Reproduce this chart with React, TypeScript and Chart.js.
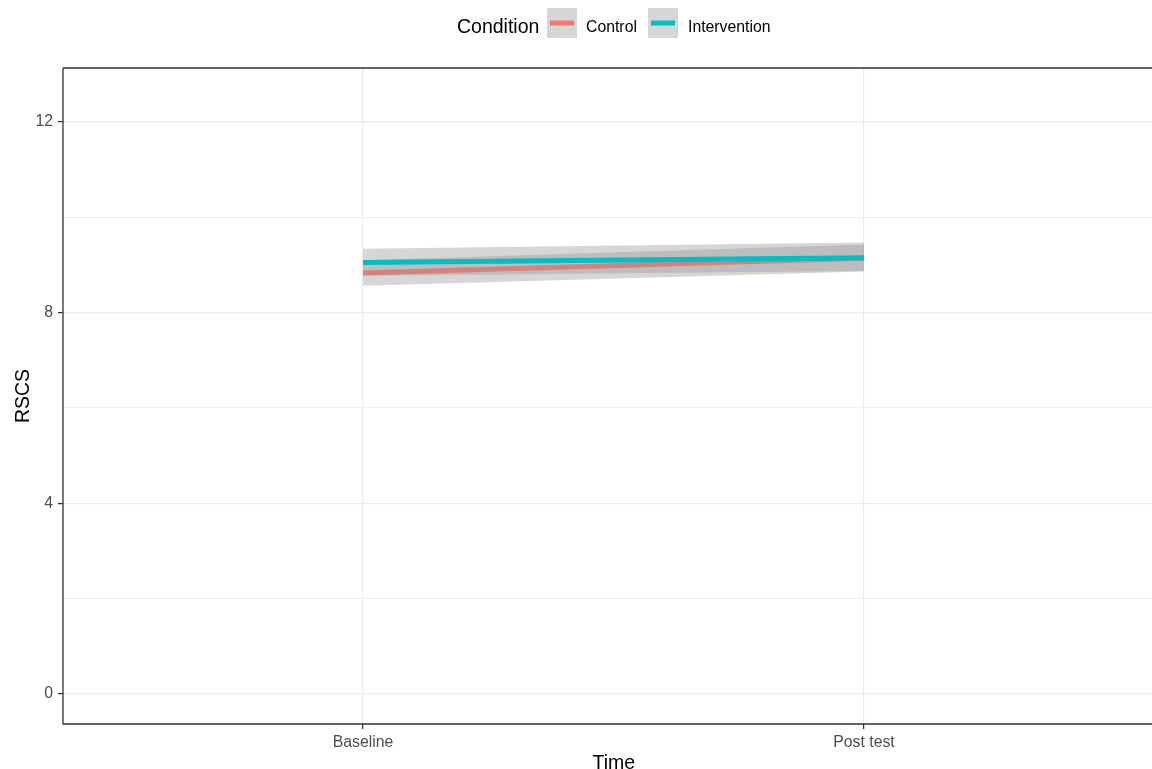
import React, { useEffect, useRef } from "react";
import { Chart, registerables } from "chart.js";

Chart.register(...registerables);

const categories = ["Baseline", "Post test"];
const timeIndex = [1, 2];
const controlMean = [8.83, 9.14];
const controlLower = [8.56, 8.86];
const controlUpper = [9.1, 9.43];
const interventionMean = [9.05, 9.15];
const interventionLower = [8.77, 8.87];
const interventionUpper = [9.34, 9.47];
const yTicks = [0, 2, 4, 6, 8, 10, 12];
const seriesNames = ["Control", "Intervention"];
const legendTitle = "Condition";
const xTitle = "Time";
const yTitle = "RSCS";

const RED = "#F8766D";
const TEAL = "#00BFC4";
const RIBBON = "rgba(153,153,153,0.4)";
const FONT = "'Liberation Sans', Arial, sans-serif";

const pts = (arr: number[]) => arr.map((v, i) => ({ x: timeIndex[i], y: v }));

export default function App() {
  const ref = useRef<HTMLCanvasElement | null>(null);
  useEffect(() => {
    if (!ref.current) return;
    const decor = {
      id: "decor",
      afterDatasetsDraw(chart: any) {
        const { ctx, chartArea } = chart;
        ctx.save();
        ctx.strokeStyle = "#333333";
        ctx.lineWidth = 1.3;
        ctx.beginPath();
        ctx.moveTo(chartArea.left, chartArea.top);
        ctx.lineTo(chartArea.right + 5, chartArea.top);
        ctx.moveTo(chartArea.left, chartArea.top);
        ctx.lineTo(chartArea.left, chartArea.bottom);
        ctx.lineTo(chartArea.right + 5, chartArea.bottom);
        ctx.stroke();
        ctx.restore();
      },
      afterDraw(chart: any) {
        const { ctx, chartArea } = chart;
        ctx.save();
        // axis titles
        ctx.fillStyle = "#000000";
        ctx.font = `19.5px ${FONT}`;
        ctx.textAlign = "center";
        ctx.textBaseline = "alphabetic";
        ctx.fillText(xTitle, 613.8, 769);
        ctx.save();
        ctx.translate(29, (chartArea.top + chartArea.bottom) / 2);
        ctx.rotate(-Math.PI / 2);
        ctx.fillText(yTitle, 0, 0);
        ctx.restore();
        // legend
        ctx.textAlign = "left";
        ctx.fillText(legendTitle, 457, 33);
        const keys = [
          { x: 547, color: RED, label: seriesNames[0], tx: 586 },
          { x: 648, color: TEAL, label: seriesNames[1], tx: 688 },
        ];
        ctx.font = `15.8px ${FONT}`;
        keys.forEach((k) => {
          ctx.fillStyle = "#d6d6d6";
          ctx.fillRect(k.x, 8, 30, 30);
          ctx.strokeStyle = k.color;
          ctx.lineWidth = 5;
          ctx.beginPath();
          ctx.moveTo(k.x + 3, 23);
          ctx.lineTo(k.x + 27, 23);
          ctx.stroke();
          ctx.fillStyle = "#000000";
          ctx.fillText(k.label, k.tx, 32);
        });
        ctx.restore();
      },
    };
    const chart = new Chart(ref.current, {
      type: "line",
      data: {
        datasets: [
          {
            label: "ctrlUpper",
            data: pts(controlUpper),
            borderWidth: 0,
            pointRadius: 0,
            backgroundColor: RIBBON,
            fill: 1,
            order: 4,
          },
          {
            label: "ctrlLower",
            data: pts(controlLower),
            borderWidth: 0,
            pointRadius: 0,
            fill: false,
            order: 4,
          },
          {
            label: seriesNames[0],
            data: pts(controlMean),
            borderColor: RED,
            borderWidth: 5,
            pointRadius: 0,
            fill: false,
            order: 3,
          },
          {
            label: "intUpper",
            data: pts(interventionUpper),
            borderWidth: 0,
            pointRadius: 0,
            backgroundColor: RIBBON,
            fill: 4,
            order: 2,
          },
          {
            label: "intLower",
            data: pts(interventionLower),
            borderWidth: 0,
            pointRadius: 0,
            fill: false,
            order: 2,
          },
          {
            label: seriesNames[1],
            data: pts(interventionMean),
            borderColor: TEAL,
            borderWidth: 5,
            pointRadius: 0,
            fill: false,
            order: 1,
          },
        ],
      },
      options: {
        animation: false,
        responsive: false,
        layout: { padding: { top: 68, left: 0, right: 0, bottom: 0 } },
        plugins: {
          legend: { display: false },
          tooltip: { enabled: false },
          title: { display: false },
        },
        scales: {
          x: {
            type: "linear",
            min: 0.401,
            max: 2.575,
            afterBuildTicks: (axis: any) => {
              axis.ticks = timeIndex.map((v) => ({ value: v }));
            },
            afterFit: (axis: any) => {
              axis.height = 45;
            },
            ticks: {
              callback: (v: any) => categories[Number(v) - 1] ?? "",
              color: "#4d4d4d",
              font: { family: FONT, size: 15.8 },
              padding: 4,
              maxRotation: 0,
              autoSkip: false,
            },
            grid: {
              color: "#ebebeb",
              lineWidth: 1.2,
              tickLength: 5,
              tickColor: "#333333",
              tickWidth: 1.3,
            },
            border: { display: false },
          },
          y: {
            type: "linear",
            min: -0.63,
            max: 13.13,
            afterBuildTicks: (axis: any) => {
              axis.ticks = yTicks.map((v) => ({ value: v }));
            },
            afterFit: (axis: any) => {
              axis.width = 63;
            },
            ticks: {
              callback: (v: any) => (Number(v) % 4 === 0 ? String(v) : ""),
              color: "#4d4d4d",
              font: { family: FONT, size: 15.8 },
              padding: 5,
              autoSkip: false,
            },
            grid: {
              color: "#ebebeb",
              lineWidth: (c: any) => (c.tick && c.tick.value % 4 === 0 ? 1.2 : 0.8),
              tickLength: 5,
              tickColor: (c: any) =>
                c.tick && c.tick.value % 4 === 0 ? "#333333" : "rgba(0,0,0,0)",
              tickWidth: 1.3,
            },
            border: { display: false },
          },
        },
      },
      plugins: [decor],
    } as any);
    return () => chart.destroy();
  }, []);
  return (
    <div
      style={{
        position: "fixed",
        left: 0,
        top: 0,
        width: 1152,
        height: 769,
        background: "#ffffff",
        overflow: "hidden",
      }}
    >
      <canvas ref={ref} width={1152} height={769} style={{ display: "block" }} />
    </div>
  );
}
